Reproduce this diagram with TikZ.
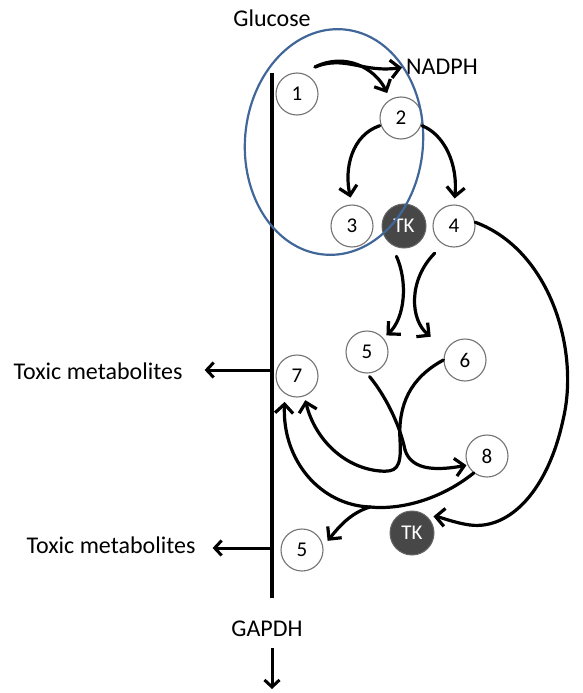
\documentclass[tikz,border=0pt]{standalone}
\usepackage{fontspec}
\setmainfont{Carlito}
\usetikzlibrary{arrows.meta}
\begin{document}
\begin{tikzpicture}[x=1pt,y=-1pt,
 met/.style={circle,draw=black!55,line width=1.1pt,minimum size=42pt,inner sep=0pt,fill=white,font=\fontsize{21}{23}\selectfont},
 tk/.style={circle,fill=black!72,draw=black!60,line width=1pt,minimum size=44pt,inner sep=0pt,text=white,font=\fontsize{21}{23}\selectfont},
 lbl/.style={font=\fontsize{24}{26}\selectfont,inner sep=0pt},
 arr/.style={line width=3.2pt,line cap=round,-{Straight Barb[length=9pt,width=18pt,line width=3.2pt]}},
 tarr/.style={line width=3pt,-{Straight Barb[length=7pt,width=15pt,line width=3pt]}},
 thk/.style={line width=3.2pt,line cap=round},
]
\useasboundingbox (0,0) rectangle (582,693);

% main vertical pathway
\coordinate (vtop) at (272,73);
\coordinate (vbot) at (272,598);
\draw[line width=3.3pt] (vtop) -- (vbot);

% nodes
\node[met] (n1) at (297,94) {1};
\node[met] (n2) at (401,118) {2};
\node[met] (n3) at (352,226) {3};
\node[tk]  (tk1) at (404,226) {TK};
\node[met] (n4) at (454,226) {4};
\node[met] (n5) at (367,352) {5};
\node[met] (n6) at (465,360) {6};
\node[met] (n7) at (297,376) {7};
\node[met] (n8) at (487,456) {8};
\node[tk]  (tk2) at (412,533) {TK};
\node[met] (n5b) at (302,550) {5};

% labels
\node[lbl] (glu) at (272,18) {Glucose};
\node[lbl,anchor=west] (nadph) at (406,67) {NADPH};
\node[lbl] (tox1) at (98,371) {Toxic metabolites};
\node[lbl] (tox2) at (111,545) {Toxic metabolites};
\node[lbl] (gapdh) at (267,629) {GAPDH};

% ellipse (oxidative branch)
\draw[color={rgb,255:red,65;green,102;blue,152},line width=2.2pt,rotate around={-5:(334,142)}]
  (334,142) ellipse [x radius=89pt, y radius=113pt];

% 1 -> 2 and NADPH
\coordinate (s1) at (315,67);
\draw[arr,shorten >=7pt] (s1) .. controls (345,52) and (375,68) .. (n2.120);
\draw[arr,shorten >=4pt] (s1) .. controls (345,55) and (362,73) .. (nadph.west);

% 2 -> 3, 2 -> 4
\draw[arr,shorten >=7pt,shorten <=1pt] (n2.200) .. controls (352,135) and (344,168) .. (n3.north);
\draw[arr,shorten >=6pt,shorten <=1pt] (n2.340) .. controls (445,135) and (458,165) .. (n4.north);

% TK -> 5, 4 -> 6
\draw[arr,shorten <=13pt,shorten >=4pt] (tk1.235) .. controls (408,282) and (405,318) .. (n5.40);
\draw[arr,shorten <=12pt,shorten >=20pt] (n4.240) .. controls (408,280) and (410,320) .. (n6.150);

% big arc 4 -> lower TK
\coordinate (a1) at (563,420);
\coordinate (a2) at (470,525);
\draw[thk] (n4.10) .. controls (550,250) and (580,350) .. (a1)
  .. controls (548,490) and (510,530) .. (a2);
\draw[arr,shorten >=7pt] (a2) .. controls (455,523) and (440,517) .. (tk2.50);

% 5 -> 8
\coordinate (b1) at (405,450);
\draw[thk,shorten <=4pt] (n5.south) .. controls (385,395) and (400,425) .. (b1);
\draw[arr,shorten >=1pt] (b1) .. controls (412,472) and (440,470) .. (n8.205);

% 6 -> 7
\coordinate (c1) at (400,440);
\coordinate (c2) at (380,471);
\draw[thk] (n6.180) .. controls (410,378) and (398,405) .. (c1)
  .. controls (402,470) and (395,472) .. (c2);
\draw[arr,shorten >=4pt] (c2) .. controls (345,468) and (315,440) .. (n7.290);

% 8 -> 7 and 8 -> 5
\coordinate (j2) at (370,507);
\draw[thk] (n8.232) .. controls (440,500) and (400,510) .. (j2);
\draw[arr,shorten >=8pt] (j2) .. controls (320,505) and (282,460) .. (n7.236);
\draw[arr,shorten >=7pt] (j2) .. controls (350,513) and (338,528) .. (n5b.10);

% toxic metabolites
\coordinate (v1) at (272,370);
\coordinate (v2) at (272,548);
\draw[tarr,shorten >=22pt] (v1) -- (tox1.east |- v1);
\draw[tarr,shorten >=17pt] (v2) -- (tox2.east |- v2);

% GAPDH arrow
\coordinate (g1) at (272,648);
\coordinate (g2) at (272,689);
\draw[tarr] (g1) -- (g2);
\end{tikzpicture}
\end{document}
